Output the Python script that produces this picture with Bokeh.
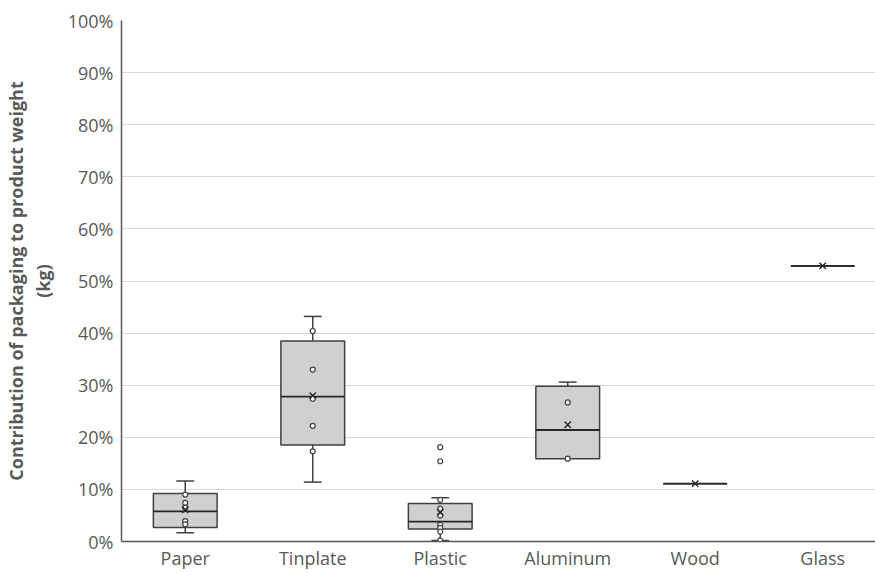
from bokeh.plotting import figure
from bokeh.models import Range1d, FixedTicker, PrintfTickFormatter, ColumnDataSource
from bokeh.embed import file_html
from bokeh.resources import INLINE

# ---- data (percent of product weight) ----
categories = ["Paper", "Tinplate", "Plastic", "Aluminum", "Wood", "Glass"]
whisker_low = [1.7, 11.4, 0.2, 15.9, 11.1, 52.9]
q1 = [2.7, 18.5, 2.4, 15.9, 11.1, 52.9]
median = [5.8, 27.8, 3.8, 21.4, 11.1, 52.9]
q3 = [9.2, 38.5, 7.3, 29.8, 11.1, 52.9]
whisker_high = [11.6, 43.2, 8.4, 30.6, 11.1, 52.9]
means = [6.1, 28.0, 5.6, 22.4, 11.1, 52.9]
points = [
    [9.0, 7.4, 6.5, 3.9, 3.3],
    [40.4, 33.0, 27.4, 22.2, 17.3],
    [18.1, 15.4, 8.0, 6.3, 5.0, 3.2, 2.6, 1.9, 0.2],
    [26.7, 15.9],
    [],
    [],
]
y_ticks = [0, 10, 20, 30, 40, 50, 60, 70, 80, 90, 100]

FONT = "Open Sans"
LABEL_COLOR = "#595959"
EDGE = "#404040"

xs = list(range(len(categories)))
box_w = 0.5
cap_w = 0.14

p = figure(width=875, height=572, output_backend="svg", toolbar_location=None,
           x_range=Range1d(-0.5, 5.414), y_range=Range1d(0, 100),
           min_border_left=121, min_border_right=0, min_border_top=20,
           min_border_bottom=31)
p.outline_line_color = None
p.background_fill_color = "white"
p.border_fill_color = "white"

# grid
p.xgrid.visible = False
p.ygrid.grid_line_color = "#d9d9d9"
p.ygrid.grid_line_width = 1
p.ygrid.ticker = FixedTicker(ticks=y_ticks)

# axes
p.yaxis.ticker = FixedTicker(ticks=y_ticks)
p.yaxis.formatter = PrintfTickFormatter(format="%d%%")
p.xaxis.ticker = FixedTicker(ticks=xs)
p.xaxis.major_label_overrides = {i: c for i, c in enumerate(categories)}
for ax in (p.xaxis[0], p.yaxis[0]):
    ax.axis_line_color = "#595959"
    ax.axis_line_width = 1.5
    ax.major_tick_in = 0
    ax.major_tick_out = 0
    ax.minor_tick_in = 0
    ax.minor_tick_out = 0
    ax.major_label_text_font = FONT
    ax.major_label_text_color = LABEL_COLOR
    ax.major_label_text_font_size = "18px"
p.xaxis.major_label_standoff = 4
p.yaxis.major_label_standoff = 8
p.yaxis.axis_label = "Contribution of packaging to product weight\n(kg)"
p.yaxis.axis_label_text_font = FONT
p.yaxis.axis_label_text_font_style = "bold"
p.yaxis.axis_label_text_font_size = "18px"
p.yaxis.axis_label_text_line_height = 1.1
p.yaxis.axis_label_text_color = LABEL_COLOR
p.yaxis.axis_label_standoff = 10

# whiskers (vertical)
wx, wy0, wy1 = [], [], []
for i in xs:
    if whisker_high[i] > q3[i]:
        wx.append(i); wy0.append(q3[i]); wy1.append(whisker_high[i])
    if whisker_low[i] < q1[i]:
        wx.append(i); wy0.append(whisker_low[i]); wy1.append(q1[i])
p.segment(x0=wx, y0=wy0, x1=wx, y1=wy1, line_color=EDGE, line_width=1.5)

# caps
cx0, cx1, cy = [], [], []
for i in xs:
    if whisker_high[i] > q3[i]:
        cx0.append(i - cap_w / 2); cx1.append(i + cap_w / 2); cy.append(whisker_high[i])
    if whisker_low[i] < q1[i]:
        cx0.append(i - cap_w / 2); cx1.append(i + cap_w / 2); cy.append(whisker_low[i])
p.segment(x0=cx0, y0=cy, x1=cx1, y1=cy, line_color=EDGE, line_width=1.5)

# boxes
src = ColumnDataSource(dict(x=xs, q1=q1, q3=q3, med=median, mean=means,
                            left=[i - box_w / 2 for i in xs],
                            right=[i + box_w / 2 for i in xs]))
p.vbar(x="x", width=box_w, bottom="q1", top="q3", source=src,
       fill_color="#d0d0d0", line_color=EDGE, line_width=1.5)
p.segment(x0="left", y0="med", x1="right", y1="med", source=src,
          line_color="#262626", line_width=1.8)

# data points
px, py = [], []
for i, pts in enumerate(points):
    for v in pts:
        px.append(i); py.append(v)
p.scatter(px, py, marker="circle", size=5, fill_color="white",
          line_color=EDGE, line_width=1.2)

# means
p.scatter(x="x", y="mean", source=src, marker="x", size=9,
          line_color="#262626", line_width=1.4)

open("out.html", "w").write(file_html(p, INLINE))
